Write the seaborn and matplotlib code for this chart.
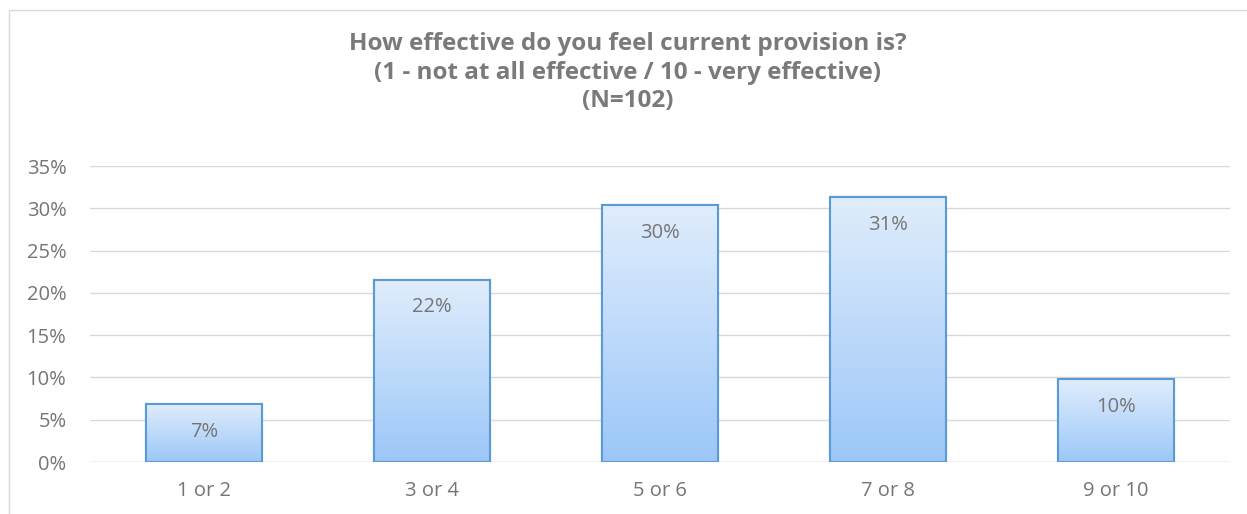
import numpy as np
import pandas as pd
import matplotlib
matplotlib.use("Agg")
import matplotlib.pyplot as plt
import seaborn as sns
from matplotlib.patches import Rectangle

categories = ["1 or 2", "3 or 4", "5 or 6", "7 or 8", "9 or 10"]
shares = [6.86, 21.57, 30.39, 31.37, 9.80]
value_labels = ["7%", "22%", "30%", "31%", "10%"]
y_ticks = [0, 5, 10, 15, 20, 25, 30, 35]
title_lines = ["How effective do you feel current provision is?",
               "(1 - not at all effective / 10 - very effective)",
               "(N=102)"]

df = pd.DataFrame({"category": categories, "share": shares})

sns.set_theme(style="white")
plt.rcParams["font.family"] = ["Open Sans", "DejaVu Sans"]

text_grey = "#757575"
title_grey = "#7a7a7a"
grid_grey = "#d9d9d9"
edge_blue = "#5b9bd5"

fig = plt.figure(figsize=(12.47, 5.14), dpi=100)
ax = fig.add_axes([90 / 1247, 1 - 462 / 514, 1140 / 1247, (462 - 166) / 514])

sns.barplot(data=df, x="category", y="share", ax=ax, width=0.505,
            color="#bdd7f7", edgecolor=edge_blue, linewidth=1.5, zorder=3)

# vertical gradient fill for each bar
grad = np.linspace(0, 1, 256).reshape(-1, 1)
cmap = matplotlib.colors.LinearSegmentedColormap.from_list(
    "barfill", ["#9cc7f8", "#e0edfc"])
for patch in list(ax.patches):
    x0, y0 = patch.get_x(), patch.get_y()
    w, h = patch.get_width(), patch.get_height()
    im = ax.imshow(grad, cmap=cmap, aspect="auto", origin="lower",
                   extent=[x0, x0 + w, y0, y0 + h], zorder=3.5)
    im.set_clip_path(patch)
    ax.add_patch(Rectangle((x0, y0), w, h, fill=False, edgecolor=edge_blue,
                           linewidth=1.5, zorder=4))

for i, (v, lab) in enumerate(zip(shares, value_labels)):
    ax.text(i, v - 3.3, lab, ha="center", va="center", fontsize=14.5,
            color=text_grey, zorder=5)

ax.set_xlim(-0.5, len(categories) - 0.5)
ax.set_ylim(0, 35)
ax.set_yticks(y_ticks)
ax.set_yticklabels([f"{t}%" for t in y_ticks])
ax.yaxis.grid(True, color=grid_grey, linewidth=1, zorder=0)
ax.set_axisbelow(True)
for s in ax.spines.values():
    s.set_visible(False)
ax.axhline(0, color=grid_grey, linewidth=1, zorder=2)
ax.set_xlabel("")
ax.set_ylabel("")
ax.tick_params(axis="both", length=0, labelsize=14.5, colors=text_grey)
ax.tick_params(axis="y", pad=17)
ax.tick_params(axis="x", pad=14)

for line, y in zip(title_lines, [44, 73, 101]):
    fig.text(0.5 + 4 / 1247, 1 - y / 514, line, ha="center", va="center",
             fontsize=17.5, fontweight="bold", color=title_grey)

# outer chart frame
fig.patches.append(Rectangle((9 / 1247, -0.05), 1.2, 1 - 10 / 514 + 0.05,
                             transform=fig.transFigure, fill=False,
                             edgecolor="#d9d9d9", linewidth=1))

fig.savefig("out.png", dpi=100)
